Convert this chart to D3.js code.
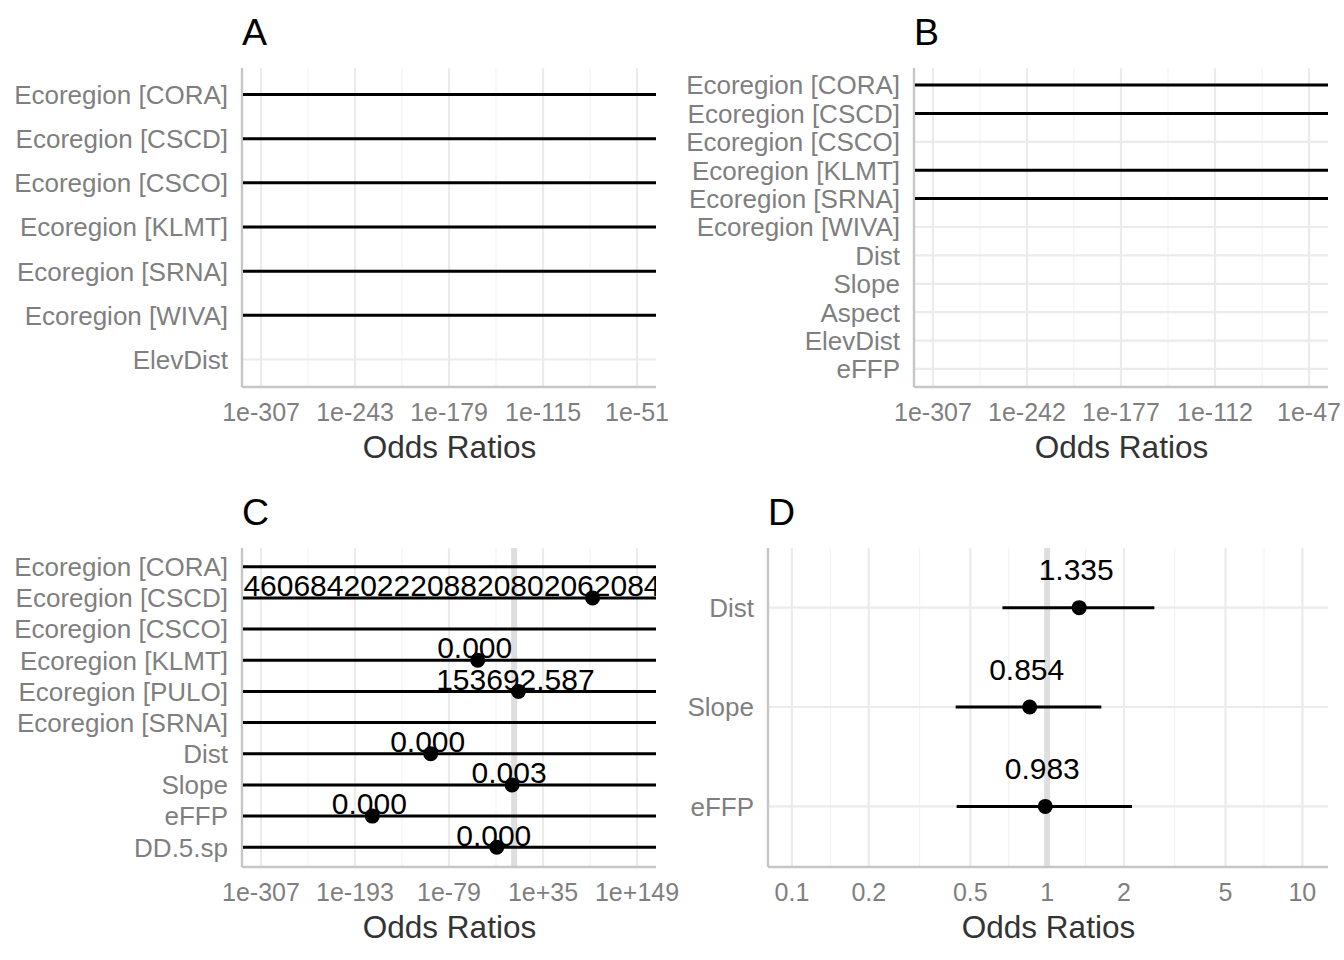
<!DOCTYPE html>
<html><head><meta charset="utf-8">
<script src="https://cdn.jsdelivr.net/npm/d3@7"></script>
<style>
body{margin:0;background:#fff}
text{font-family:"Liberation Sans",Arial,Helvetica,sans-serif}
</style>
</head><body>
<svg id="chart" width="1344" height="960"></svg>
<script>
// ---------------- DATA ----------------
// Panels A-C: values stored as log10(odds ratio); null = not shown / outside view
const panelA_terms = ["Ecoregion [CORA]","Ecoregion [CSCD]","Ecoregion [CSCO]","Ecoregion [KLMT]","Ecoregion [SRNA]","Ecoregion [WIVA]","ElevDist"];
const panelA_logEst  = [null,null,null,null,null,null,null];
const panelA_logLow  = [-400,-400,-400,-400,-400,-400,null];
const panelA_logHigh = [400,400,400,400,400,400,null];
const panelA_labels  = [null,null,null,null,null,null,null];
const panelA_ticks   = [-307,-243,-179,-115,-51];
const panelA_limits  = [-319.3,-38.1];

const panelB_terms = ["Ecoregion [CORA]","Ecoregion [CSCD]","Ecoregion [CSCO]","Ecoregion [KLMT]","Ecoregion [SRNA]","Ecoregion [WIVA]","Dist","Slope","Aspect","ElevDist","eFFP"];
const panelB_logEst  = [null,null,null,null,null,null,null,null,null,null,null];
const panelB_logLow  = [-400,-400,null,-400,-400,null,null,null,null,null,null];
const panelB_logHigh = [400,400,null,400,400,null,null,null,null,null,null];
const panelB_labels  = [null,null,null,null,null,null,null,null,null,null,null];
const panelB_ticks   = [-307,-242,-177,-112,-47];
const panelB_limits  = [-319.4,-33.9];

const panelC_terms = ["Ecoregion [CORA]","Ecoregion [CSCD]","Ecoregion [CSCO]","Ecoregion [KLMT]","Ecoregion [PULO]","Ecoregion [SRNA]","Dist","Slope","eFFP","DD.5.sp"];
const panelC_logEst  = [null,95.1,null,-44.2,5.187,null,-101.2,-2.52,-172.0,-21.1];
const panelC_logLow  = [-400,-400,-400,-400,-400,-400,-400,-400,-400,-400];
const panelC_logHigh = [400,400,400,400,400,400,400,400,400,400];
const panelC_labels  = [null,
  "12798450397105238374290615384" + "4606842022208820802062084" + "624307718593004621778836051907234498660152" + ".000",
  null,"0.000","153692.587",null,"0.000","0.003","0.000","0.000"];
const panelC_ticks   = [-307,-193,-79,35,149];
const panelC_limits  = [-328.8,172.0];

const panelD_terms = ["Dist","Slope","eFFP"];
const panelD_est   = [1.335,0.854,0.983];
const panelD_low   = [0.668,0.438,0.442];
const panelD_high  = [2.63,1.63,2.15];
const panelD_labels= ["1.335","0.854","0.983"];
const panelD_ticks = [0.1,0.2,0.5,1,2,5,10];
const panelD_limits= [0.0813,12.6];

// ---------------- DRAWING ----------------
const svg = d3.select("#chart");
const TICK_COL = "#7f7f7f", TITLE_COL = "#333333";
const GRID_MAJOR = "#ebebeb", GRID_MINOR = "#f3f3f3", AXIS_COL = "#c6c6c6";

function drawPanel(cfg, idx) {
  const {box} = cfg;
  const g = svg.append("g");
  let x, minor;
  if (cfg.log) {
    x = d3.scaleLog().domain(cfg.limits).range([box.l, box.r]);
    minor = [];
    const t = cfg.ticks;
    for (let i = 0; i < t.length - 1; i++) minor.push(Math.sqrt(t[i] * t[i + 1]));
  } else {
    x = d3.scaleLinear().domain(cfg.limits).range([box.l, box.r]);
    const t = cfg.ticks, step = t[1] - t[0];
    minor = [];
    for (let i = -1; i < t.length; i++) minor.push(t[0] + step * (i + 0.5));
    minor = minor.filter(v => v > cfg.limits[0] && v < cfg.limits[1]);
  }
  const y = d3.scalePoint().domain(cfg.terms).range([box.t, box.b]).padding(0.6);
  const step = y.step();

  const clipId = "clip" + idx;
  svg.append("defs").append("clipPath").attr("id", clipId)
    .append("rect").attr("x", box.l).attr("y", box.t).attr("width", box.r - box.l).attr("height", box.b - box.t);

  // minor grid
  g.selectAll(".minor").data(minor).join("line")
    .attr("x1", d => x(d)).attr("x2", d => x(d)).attr("y1", box.t).attr("y2", box.b)
    .attr("stroke", GRID_MINOR).attr("stroke-width", 1.2);
  // major vertical grid
  g.selectAll(".majv").data(cfg.ticks).join("line")
    .attr("x1", d => x(d)).attr("x2", d => x(d)).attr("y1", box.t).attr("y2", box.b)
    .attr("stroke", GRID_MAJOR).attr("stroke-width", 2.2);
  // major horizontal grid
  g.selectAll(".majh").data(cfg.terms).join("line")
    .attr("x1", box.l).attr("x2", box.r).attr("y1", d => y(d)).attr("y2", d => y(d))
    .attr("stroke", GRID_MAJOR).attr("stroke-width", 2.2);

  const clipped = g.append("g").attr("clip-path", `url(#${clipId})`);
  // intercept line (odds ratio = 1)
  const one = cfg.log ? 1 : 0;
  if (one > cfg.limits[0] && one < cfg.limits[1]) {
    clipped.append("line").attr("x1", x(one)).attr("x2", x(one)).attr("y1", box.t).attr("y2", box.b)
      .attr("stroke", "#dedede").attr("stroke-width", 6);
  }

  // axis lines
  g.append("line").attr("x1", box.l - 1).attr("x2", box.l - 1).attr("y1", box.t).attr("y2", box.b + 1)
    .attr("stroke", AXIS_COL).attr("stroke-width", 2.4);
  g.append("line").attr("x1", box.l - 1).attr("x2", box.r).attr("y1", box.b + 1).attr("y2", box.b + 1)
    .attr("stroke", AXIS_COL).attr("stroke-width", 2.4);

  const rows = cfg.terms.map((t, i) => ({term: t, est: cfg.est[i], low: cfg.low[i], high: cfg.high[i], label: cfg.labels[i]}));

  const marks = g.append("g").attr("clip-path", `url(#${clipId})`);
  marks.selectAll(".err").data(rows.filter(r => r.low != null)).join("line")
    .attr("x1", r => x(r.low)).attr("x2", r => x(r.high))
    .attr("y1", r => y(r.term)).attr("y2", r => y(r.term))
    .attr("stroke", "#000").attr("stroke-width", 3);
  marks.selectAll(".pt").data(rows.filter(r => r.est != null)).join("circle")
    .attr("cx", r => x(r.est)).attr("cy", r => y(r.term)).attr("r", 7.5).attr("fill", "#000");
  marks.selectAll(".lbl").data(rows.filter(r => r.est != null && r.label)).join("text")
    .attr("x", r => x(r.est) - 3).attr("y", r => y(r.term) - 0.375 * step)
    .attr("dy", "0.33em").attr("text-anchor", "middle")
    .attr("font-size", 30).attr("fill", "#000").text(r => r.label);

  // y tick labels
  g.selectAll(".ytl").data(cfg.terms).join("text")
    .attr("x", box.l - 15).attr("y", d => y(d)).attr("dy", "0.36em")
    .attr("text-anchor", "end").attr("font-size", 26).attr("fill", TICK_COL).text(d => d);
  // x tick labels
  g.selectAll(".xtl").data(cfg.ticks).join("text")
    .attr("x", d => x(d)).attr("y", box.b + 35).attr("text-anchor", "middle")
    .attr("font-size", 25).attr("fill", TICK_COL).text(cfg.fmt);
  // axis title
  g.append("text").attr("x", (box.l + box.r) / 2).attr("y", box.b + 71.5).attr("text-anchor", "middle")
    .attr("font-size", 31.5).attr("fill", TITLE_COL).text("Odds Ratios");
  // panel title
  g.append("text").attr("x", box.l - 1).attr("y", box.t - 23).attr("font-size", 37.5).attr("fill", "#000").text(cfg.title);
}

const expFmt = d => "1e" + (d >= 0 ? "+" : "-") + Math.abs(d);
const panels = [
  {title:"A", box:{l:243,r:656,t:68,b:386}, terms:panelA_terms, est:panelA_logEst, low:panelA_logLow, high:panelA_logHigh, labels:panelA_labels, ticks:panelA_ticks, limits:panelA_limits, fmt:expFmt, log:false},
  {title:"B", box:{l:915,r:1328,t:68,b:386}, terms:panelB_terms, est:panelB_logEst, low:panelB_logLow, high:panelB_logHigh, labels:panelB_labels, ticks:panelB_ticks, limits:panelB_limits, fmt:expFmt, log:false},
  {title:"C", box:{l:243,r:656,t:548,b:866}, terms:panelC_terms, est:panelC_logEst, low:panelC_logLow, high:panelC_logHigh, labels:panelC_labels, ticks:panelC_ticks, limits:panelC_limits, fmt:expFmt, log:false},
  {title:"D", box:{l:769,r:1328,t:548,b:866}, terms:panelD_terms, est:panelD_est, low:panelD_low, high:panelD_high, labels:panelD_labels, ticks:panelD_ticks, limits:panelD_limits, fmt:d => String(d), log:true}
];
panels.forEach(drawPanel);
</script>
</body></html>
